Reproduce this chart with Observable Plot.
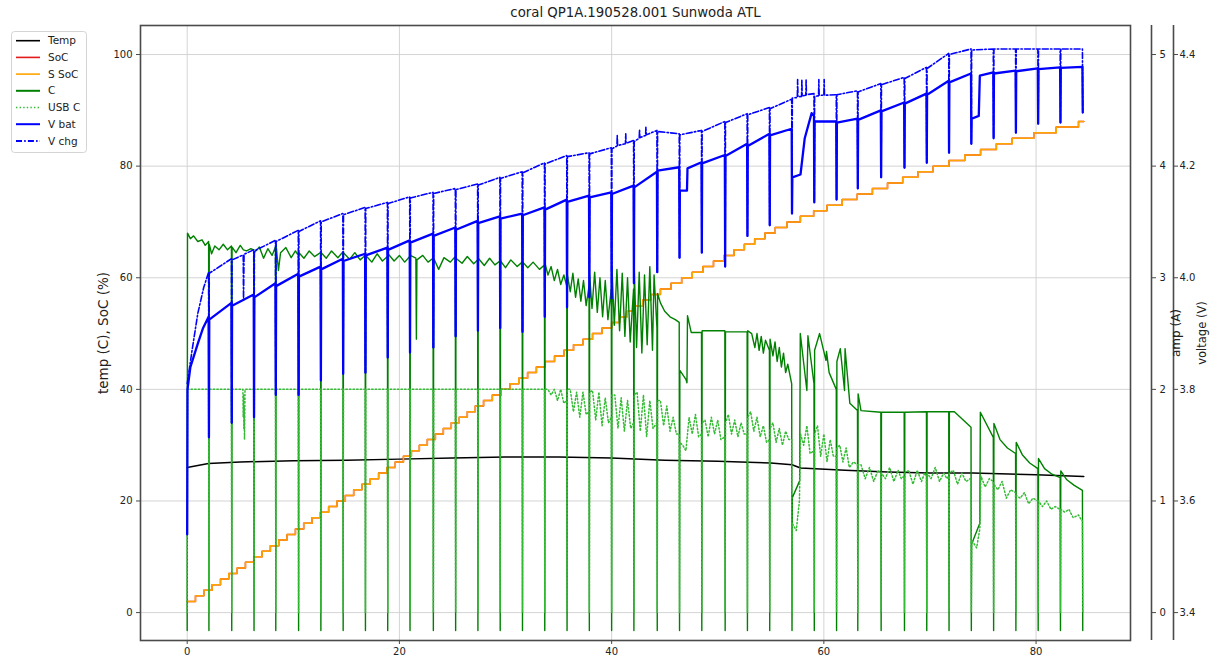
<!DOCTYPE html>
<html><head><meta charset="utf-8">
<script src="https://cdn.jsdelivr.net/npm/d3@7"></script>
<script src="https://cdn.jsdelivr.net/npm/@observablehq/plot@0.6"></script>
<style>
body{margin:0;background:#fff;font-family:"DejaVu Sans",sans-serif;}
#wrap{position:relative;width:1210px;height:659px;overflow:hidden;}
#legend{position:absolute;left:0;top:0;}
</style></head>
<body><div id="wrap"><div id="chart"></div><svg id="legend" width="100" height="160"></svg></div>
<script>
// ---------- data ----------
const title = "coral QP1A.190528.001 Sunwoda ATL";
const xTicks = [0, 20, 40, 60, 80];
const leftTicks = [0, 20, 40, 60, 80, 100];        // temp (C), SoC (%)
const ampTicks = [0, 1, 2, 3, 4, 5];               // amp (A)
const voltTicks = [3.4, 3.6, 3.8, 4.0, 4.2, 4.4];  // voltage (V)

// times of the periodic interruptions (spikes)
const spikeT = [0, 2.05, 4.2, 6.3, 8.35, 10.5, 12.6, 14.7, 16.8, 18.9, 21.0, 23.2, 25.3, 27.4, 29.5, 31.6, 33.7, 35.8, 37.9, 40.0,
  42.1, 44.3, 46.4, 48.5, 50.7, 52.8, 54.9, 57.0, 59.1, 61.2, 63.2, 65.4, 67.6, 69.7, 71.8, 73.9, 76.0, 78.1, 80.2, 82.3, 84.4];

// Temp (C)
const tempT = [0, 2, 5, 10, 15, 20, 25, 30, 35, 40, 45, 50, 55, 57, 57.8, 62, 66, 70, 74, 80, 84.5];
const tempV = [26.0, 26.7, 27.0, 27.2, 27.3, 27.5, 27.7, 27.9, 27.9, 27.7, 27.3, 27.1, 26.8, 26.5, 25.9, 25.5, 25.2, 25.0, 25.0, 24.7, 24.4];

// SoC (%): starts at 2, each entry is the time it steps up by 1 (3 ... 88)
const socStart = 2, socEndT = 84.5;
const socStepT = [0.78, 1.57, 2.35, 3.14, 3.92, 4.71, 5.49, 6.27, 7.06, 7.84, 8.63, 9.41, 10.2, 10.98, 11.76, 12.55, 13.33, 14.12, 14.9,
  15.69, 16.47, 17.25, 18.04, 18.82, 19.61, 20.38, 21.13, 21.88, 22.63, 23.39, 24.14, 24.89, 25.64, 26.4, 27.15, 27.93, 28.76, 29.59,
  30.42, 31.25, 32.08, 32.91, 33.73, 34.62, 35.51, 36.41, 37.31, 38.2, 39.1, 40.0, 40.74, 41.47, 42.21, 42.94, 43.68, 44.6, 45.6, 46.6,
  47.6, 48.6, 49.6, 50.57, 51.54, 52.51, 53.48, 54.45, 55.42, 56.53, 57.79, 59.04, 60.3, 61.73, 63.15, 64.58, 66.0, 67.43, 68.86, 70.3,
  71.79, 73.28, 74.77, 76.26, 77.75, 79.79, 81.9, 84.0];

// C (A)
const cSpikeMin = -0.16;
const cAfter = [3.40, 3.30, 3.275, 3.225, 3.30, 3.225, 3.225, 3.225, 3.20, 3.215, 3.20, 3.175, 3.175, 3.175, 3.15, 3.14, 3.125, 3.025, 3.025, 3.10,
  3.10, 2.86, 2.17, 2.525, 2.515, 2.525, 2.45, 1.03, 2.35, 2.25, 1.96, 1.795, 1.795, 1.80, 1.80, 0.615, 1.695, 1.525, 1.38, 1.27];
const cBefore = [3.325, 3.285, 3.25, 3.275, 3.20, 3.225, 3.23, 3.20, 3.19, 3.19, 3.175, 3.19, 3.16, 3.15, 3.14, 3.115, 2.925, 2.925, 2.90, 2.90,
  2.55, 2.60, 2.51, 2.525, 2.515, 2.35, 2.05, 2.05, 2.00, 1.81, 1.795, 1.795, 1.80, 1.80, 1.66, 1.57, 1.425, 1.29, 1.21, 1.095];
const cMid = [[0.3, 3.35], [0.6, 3.375], [1.0, 3.325], [1.4, 3.34], [1.7, 3.29],
  [2.3, 3.215], [2.6, 3.285], [3.0, 3.25], [3.4, 3.30], [3.8, 3.25],
  [4.6, 3.225], [5.0, 3.29], [5.3, 3.25], [5.6, 3.24], [6.0, 3.26],
  [6.8, 3.275], [7.2, 3.175], [7.6, 3.26], [8.0, 3.20],
  [8.6, 3.065], [8.8, 3.225], [9.3, 3.27], [9.8, 3.18], [10.2, 3.24],
  [11.0, 3.175], [11.5, 3.24], [12.0, 3.19],
  [13.1, 3.175], [13.6, 3.24], [14.2, 3.18],
  [15.3, 3.165], [15.8, 3.225], [16.3, 3.16],
  [17.4, 3.14], [17.9, 3.215], [18.4, 3.15],
  [19.5, 3.15], [20.0, 3.20], [20.5, 3.14],
  [21.55, 3.175], [21.6, 2.45], [21.65, 3.16], [22.2, 3.20], [22.7, 3.14],
  [23.7, 3.075], [24.2, 3.18], [24.8, 3.14],
  [25.9, 3.13], [26.4, 3.19], [27.0, 3.125],
  [28.0, 3.11], [28.5, 3.175], [29.0, 3.115],
  [30.0, 3.09], [30.5, 3.16], [31.1, 3.10],
  [32.1, 3.09], [32.6, 3.14], [33.2, 3.075],
  [34.0, 3.025], [34.3, 3.10], [34.6, 2.975], [34.9, 3.075], [35.2, 2.94], [35.5, 3.025],
  [36.1, 2.875], [36.35, 3.04], [36.6, 2.825], [36.85, 2.99], [37.1, 2.79], [37.35, 2.975], [37.6, 2.75],
  [38.15, 2.725], [38.4, 3.05], [38.65, 2.69], [38.9, 3.00], [39.15, 2.65], [39.4, 2.975], [39.65, 2.625],
  [40.25, 2.575], [40.5, 3.075], [40.75, 2.525], [41.0, 3.04], [41.25, 2.475], [41.5, 3.00], [41.75, 2.425],
  [42.35, 2.375], [42.6, 3.05], [42.85, 2.325], [43.1, 3.025], [43.35, 2.40], [43.6, 3.10], [43.85, 2.35], [44.0, 3.025],
  [44.6, 2.775], [45.0, 2.70], [45.5, 2.65], [46.0, 2.625],
  [47.0, 2.09], [47.1, 2.06], [47.15, 2.66], [47.5, 2.51],
  [53.2, 2.50], [53.5, 2.375], [53.7, 2.50], [53.9, 2.35], [54.1, 2.475], [54.3, 2.325], [54.5, 2.44],
  [55.2, 2.30], [55.4, 2.425], [55.6, 2.25], [55.8, 2.375], [56.0, 2.20], [56.2, 2.325], [56.4, 2.15], [56.6, 2.225],
  [57.72, 1.18], [57.78, 2.50], [58.4, 1.99], [58.5, 2.48],
  [59.6, 2.50], [60.2, 2.26], [60.25, 2.34], [60.5, 2.15],
  [61.55, 2.365], [61.95, 1.99], [62.0, 2.365], [62.45, 1.875],
  [63.5, 1.81], [72.3, 1.80], [74.7, 0.80], [74.75, 1.795],
  [76.6, 1.55], [77.3, 1.475], [78.7, 1.415], [79.4, 1.34], [80.8, 1.29], [81.5, 1.24], [82.9, 1.19], [83.6, 1.14]];

// USB C (A)
const usbLow = 0;
const usbAfter = [2.0, 2.0, 2.0, 2.0, 2.0, 2.0, 2.0, 2.0, 2.0, 2.0, 2.0, 2.0, 2.0, 2.0, 2.0, 2.0, 2.0, 2.0, 1.975, 1.95,
  1.95, 1.90, 1.525, 1.70, 1.70, 1.75, 1.65, 0.80, 1.60, 1.475, 1.325, 1.25, 1.25, 1.25, 1.25, 0.65, 1.15, 1.05, 1.00, 0.925];
const usbBefore = [2.0, 2.0, 2.0, 2.0, 2.0, 2.0, 2.0, 2.0, 2.0, 2.0, 2.0, 2.0, 2.0, 2.0, 2.0, 2.0, 1.90, 1.80, 1.75, 1.70,
  1.70, 1.60, 1.60, 1.575, 1.60, 1.55, 1.55, 1.45, 1.40, 1.325, 1.25, 1.225, 1.225, 1.225, 1.20, 1.175, 1.075, 1.00, 0.925, 0.825];
const usbMid = [[5.25, 2.0], [5.28, 1.75], [5.31, 1.95], [5.34, 1.65], [5.37, 1.85], [5.40, 1.55], [5.45, 2.0],
  [34.0, 2.0], [34.3, 1.95], [34.6, 2.0], [34.9, 1.90], [35.2, 2.0], [35.5, 1.875],
  [36.1, 2.0], [36.4, 1.80], [36.7, 1.975], [37.0, 1.75], [37.3, 1.975], [37.6, 1.775],
  [38.2, 1.99], [38.5, 1.725], [38.8, 1.975], [39.1, 1.675], [39.4, 1.925], [39.7, 1.70],
  [40.3, 1.95], [40.6, 1.65], [40.9, 1.925], [41.2, 1.625], [41.5, 1.90], [41.8, 1.65],
  [42.4, 1.975], [42.7, 1.625], [43.0, 1.95], [43.3, 1.575], [43.6, 1.90], [43.9, 1.65],
  [44.6, 1.90], [44.9, 1.675], [45.2, 1.85], [45.5, 1.625], [45.8, 1.75], [46.1, 1.60],
  [46.7, 1.50], [47.0, 1.45], [47.3, 1.75], [47.6, 1.60], [47.9, 1.775], [48.2, 1.575],
  [48.8, 1.725], [49.1, 1.575], [49.4, 1.75], [49.7, 1.60], [50.0, 1.725], [50.3, 1.55],
  [51.0, 1.775], [51.3, 1.60], [51.6, 1.725], [51.9, 1.575], [52.2, 1.70], [52.5, 1.60],
  [53.1, 1.80], [53.4, 1.625], [53.7, 1.75], [54.0, 1.575], [54.3, 1.675], [54.6, 1.525],
  [55.2, 1.70], [55.5, 1.525], [55.8, 1.65], [56.1, 1.50], [56.4, 1.625], [56.7, 1.55],
  [57.4, 0.735], [57.7, 1.00], [57.8, 1.60], [58.1, 1.50], [58.4, 1.675], [58.7, 1.425],
  [59.4, 1.675], [59.7, 1.40], [60.0, 1.60], [60.3, 1.35], [60.6, 1.55], [60.9, 1.40],
  [61.5, 1.50], [61.8, 1.35], [62.1, 1.475], [62.4, 1.30], [62.8, 1.35],
  [63.5, 1.325], [63.9, 1.20], [64.3, 1.30], [64.7, 1.175], [65.1, 1.275],
  [65.8, 1.20], [66.2, 1.30], [66.6, 1.175], [67.0, 1.275], [67.3, 1.20],
  [68.0, 1.275], [68.4, 1.15], [68.8, 1.275], [69.2, 1.175], [69.5, 1.25],
  [70.1, 1.20], [70.5, 1.30], [70.9, 1.175], [71.3, 1.25], [71.6, 1.20],
  [72.2, 1.275], [72.6, 1.15], [73.0, 1.25], [73.4, 1.175], [73.8, 1.20],
  [74.4, 0.58], [74.7, 0.75], [74.8, 1.225], [75.2, 1.125], [75.6, 1.20],
  [76.4, 1.10], [76.8, 1.175], [77.2, 1.025], [77.6, 1.10],
  [78.5, 1.025], [78.9, 1.075], [79.3, 0.975], [79.7, 1.025],
  [80.6, 0.95], [81.0, 1.00], [81.4, 0.925], [81.8, 0.95],
  [82.7, 0.90], [83.1, 0.925], [83.5, 0.85], [84.0, 0.875], [84.3, 0.825]];

// V bat (V)
const vbatStart = [[0, 3.54], [0.03, 3.80], [0.3, 3.84], [1.0, 3.882], [1.5, 3.91]];
const vbatBefore = [3.930, 3.955, 3.970, 3.990, 4.007, 4.020, 4.034, 4.043, 4.054, 4.067, 4.079, 4.090, 4.102, 4.110, 4.115, 4.126, 4.140, 4.147, 4.153, 4.165,
  4.190, 4.198, 4.207, 4.220, 4.240, 4.258, 4.267, 4.290, 4.280, 4.285, 4.300, 4.314, 4.330, 4.353, 4.366, 4.368, 4.371, 4.375, 4.377, 4.378];
const vbatLow = [3.714, 3.740, 3.750, 3.790, 3.790, 3.816, 3.828, 3.830, 3.857, 3.866, 3.875, 3.895, 3.905, 3.910, 3.903, 3.930, 3.947, 3.965, 3.963, 3.990,
  4.010, 4.036, 4.045, 4.020, 4.075, 4.094, 4.115, 4.135, 4.140, 4.160, 4.180, 4.197, 4.206, 4.224, 4.240, 4.250, 4.260, 4.276, 4.278, 4.296];
const vbatAfter = [3.925, 3.950, 3.965, 3.985, 4.002, 4.015, 4.030, 4.040, 4.050, 4.063, 4.075, 4.086, 4.098, 4.106, 4.112, 4.122, 4.136, 4.144, 4.150, 4.162,
  4.192, 4.156, 4.205, 4.218, 4.236, 4.255, 4.180, 4.280, 4.278, 4.283, 4.298, 4.312, 4.328, 4.350, 4.285, 4.366, 4.370, 4.374, 4.376];
const vbatMid = [[47.1, 4.156], [47.15, 4.196], [57.8, 4.185], [58.2, 4.25], [58.85, 4.295], [74.6, 4.29], [74.7, 4.362]];

// V chg (V)
const vchgStart = [[0, 3.81], [0.5, 3.875], [1.0, 3.936], [1.55, 3.982]];
const vchgBefore = [4.010, 4.034, 4.050, 4.067, 4.085, 4.102, 4.115, 4.126, 4.135, 4.145, 4.153, 4.160, 4.168, 4.180, 4.190, 4.206, 4.219, 4.224, 4.233, 4.246,
  4.264, 4.258, 4.264, 4.280, 4.294, 4.305, 4.320, 4.330, 4.328, 4.335, 4.348, 4.359, 4.377, 4.402, 4.410, 4.410, 4.410, 4.410, 4.410, 4.410];
const vchgAfter = [4.008, 4.032, 4.048, 4.065, 4.083, 4.100, 4.113, 4.124, 4.133, 4.143, 4.151, 4.158, 4.166, 4.178, 4.188, 4.204, 4.217, 4.222, 4.231, 4.244,
  4.262, 4.256, 4.262, 4.278, 4.292, 4.303, 4.322, 4.325, 4.328, 4.333, 4.346, 4.357, 4.375, 4.400, 4.408, 4.410, 4.410, 4.410, 4.410];
const vchgMid = [[5.28, 4.041], [5.31, 3.96], [5.36, 4.042],
  [40.5, 4.236], [40.53, 4.255], [40.56, 4.237], [41.3, 4.240], [41.33, 4.258], [41.36, 4.241],
  [42.6, 4.250], [42.63, 4.265], [42.66, 4.251], [43.2, 4.255], [43.23, 4.270], [43.26, 4.256],
  [57.5, 4.323], [57.53, 4.355], [57.56, 4.324], [57.9, 4.325], [57.93, 4.355], [57.96, 4.326],
  [58.3, 4.327], [58.33, 4.355], [58.36, 4.328], [59.5, 4.326], [59.53, 4.355], [59.56, 4.327],
  [60.0, 4.327], [60.03, 4.355], [60.06, 4.327]];

// ---------- assemble tables ----------
const EPS = 0.03;
function build(before, low, after, afterFromK, extra) {
  const pts = extra.map(([t, v]) => ({t, v}));
  spikeT.forEach((t, k) => {
    if (k >= 1) {
      pts.push({t: t - EPS, v: before[k - 1]});
      pts.push({t, v: typeof low === "number" ? low : low[k - 1]});
    }
    const i = k - afterFromK;
    if (i >= 0 && i < after.length) pts.push({t: t + EPS, v: after[i]});
  });
  return pts.sort((a, b) => a.t - b.t);
}
const temp = tempT.map((t, i) => ({t, v: tempV[i]}));
const soc = [{t: 0, v: socStart}, ...socStepT.map((t, i) => ({t, v: socStart + 1 + i})), {t: socEndT, v: socStart + socStepT.length}];
const cData = build(cBefore, cSpikeMin, cAfter, 0, [[0, cSpikeMin], ...cMid]);
const usbData = build(usbBefore, usbLow, usbAfter, 0, [[0, usbLow], ...usbMid]);
const vbatData = build(vbatBefore, vbatLow, vbatAfter, 1, [...vbatStart, ...vbatMid]);
const vchgData = build(vchgBefore, vbatLow, vchgAfter, 1, [...vchgStart, ...vchgMid]);

// the three y axes share one position scale (left units)
const ampToY = a => a * 20;
const voltToY = v => (v - 3.4) * 100;

const X_DOMAIN = [-4.4, 88.9], Y_DOMAIN = [-5, 105.2];
const AX = "#4a4a4a";
const gridStyle = {stroke: "#cfcfcf", strokeOpacity: 1, strokeWidth: 0.9};

const series = [
  {label: "Temp", color: "#000000", width: 1.5, dash: null},
  {label: "SoC", color: "#e41a1c", width: 1.5, dash: null},
  {label: "S SoC", color: "#ffa500", width: 1.5, dash: null},
  {label: "C", color: "#008000", width: 1.4, dash: null},
  {label: "USB C", color: "#33bb33", width: 1.5, dash: "1.4,2.2"},
  {label: "V bat", color: "#0000ff", width: 2.3, dash: null},
  {label: "V chg", color: "#0000ff", width: 1.6, dash: "6,2.2,1.5,2.2"}
];

const chart = Plot.plot({
  width: 1210, height: 659,
  marginLeft: 140, marginRight: 80, marginTop: 25, marginBottom: 19,
  x: {domain: X_DOMAIN},
  y: {domain: Y_DOMAIN},
  style: {fontFamily: "DejaVu Sans", fontSize: "10px", color: "#222", background: "white"},
  marks: [
    Plot.gridX(xTicks, gridStyle),
    Plot.gridY(leftTicks, gridStyle),
    Plot.line(temp, {x: "t", y: "v", stroke: series[0].color, strokeWidth: series[0].width}),
    Plot.line(soc, {x: "t", y: "v", curve: "step-after", stroke: series[1].color, strokeWidth: series[1].width}),
    Plot.line(soc, {x: "t", y: "v", curve: "step-after", stroke: series[2].color, strokeWidth: series[2].width}),
    Plot.line(cData, {x: "t", y: d => ampToY(d.v), stroke: series[3].color, strokeWidth: series[3].width}),
    Plot.line(usbData, {x: "t", y: d => ampToY(d.v), stroke: series[4].color, strokeWidth: series[4].width, strokeDasharray: series[4].dash}),
    Plot.line(vbatData, {x: "t", y: d => voltToY(d.v), stroke: series[5].color, strokeWidth: series[5].width}),
    Plot.line(vchgData, {x: "t", y: d => voltToY(d.v), stroke: series[6].color, strokeWidth: series[6].width, strokeDasharray: series[6].dash}),
    Plot.frame({stroke: AX, strokeWidth: 1.6}),
    Plot.axisX(xTicks, {tickSize: 4, tickPadding: 3, stroke: AX, label: null}),
    Plot.axisY(leftTicks, {tickSize: 4, tickPadding: 4, stroke: AX, label: null}),
    Plot.axisY(ampTicks.map(ampToY), {anchor: "right", dx: 21, tickSize: 4, tickPadding: 4, stroke: AX, label: null,
      tickFormat: (d, i) => String(ampTicks[i])}),
    Plot.axisY(voltTicks.map(voltToY), {anchor: "right", dx: 43, tickSize: 4, tickPadding: 2, stroke: AX, label: null,
      tickFormat: (d, i) => voltTicks[i].toFixed(1)}),
    Plot.ruleX([X_DOMAIN[1]], {dx: 21, y1: Y_DOMAIN[0], y2: Y_DOMAIN[1], stroke: AX, strokeWidth: 1.6}),
    Plot.ruleX([X_DOMAIN[1]], {dx: 43, y1: Y_DOMAIN[0], y2: Y_DOMAIN[1], stroke: AX, strokeWidth: 1.6}),
    Plot.text([title], {frameAnchor: "top", dy: -13, lineAnchor: "middle", textAnchor: "middle", fontSize: 13.3, fill: "#222"}),
    Plot.text(["temp (C), SoC (%)"], {frameAnchor: "left", dx: -37, rotate: -90, textAnchor: "middle", lineAnchor: "middle", fontSize: 13.5, fill: "#222"}),
    Plot.text(["amp (A)"], {frameAnchor: "right", dx: 46, rotate: -90, textAnchor: "middle", lineAnchor: "middle", fontSize: 12, fill: "#222"}),
    Plot.text(["voltage (V)"], {frameAnchor: "right", dx: 72, rotate: -90, textAnchor: "middle", lineAnchor: "middle", fontSize: 11.5, fill: "#222"})
  ]
});
document.getElementById("chart").appendChild(chart);

// ---------- legend (upper left, outside the frame) ----------
const lg = d3.select("#legend");
lg.append("rect").attr("x", 11.5).attr("y", 31.5).attr("width", 75).attr("height", 121).attr("rx", 3)
  .attr("fill", "white").attr("stroke", "#d4d4d4");
series.forEach((s, i) => {
  const y = 40.7 + i * 16.7;
  lg.append("line").attr("x1", 16).attr("x2", 40).attr("y1", y).attr("y2", y)
    .attr("stroke", s.color).attr("stroke-width", s.label === "C" || s.label.startsWith("V") ? 2 : 1.6)
    .attr("stroke-dasharray", s.dash);
  lg.append("text").attr("x", 48).attr("y", y).attr("dy", "0.35em")
    .attr("font-family", "DejaVu Sans").attr("font-size", 10.5).attr("fill", "#222").text(s.label);
});
</script></body></html>
